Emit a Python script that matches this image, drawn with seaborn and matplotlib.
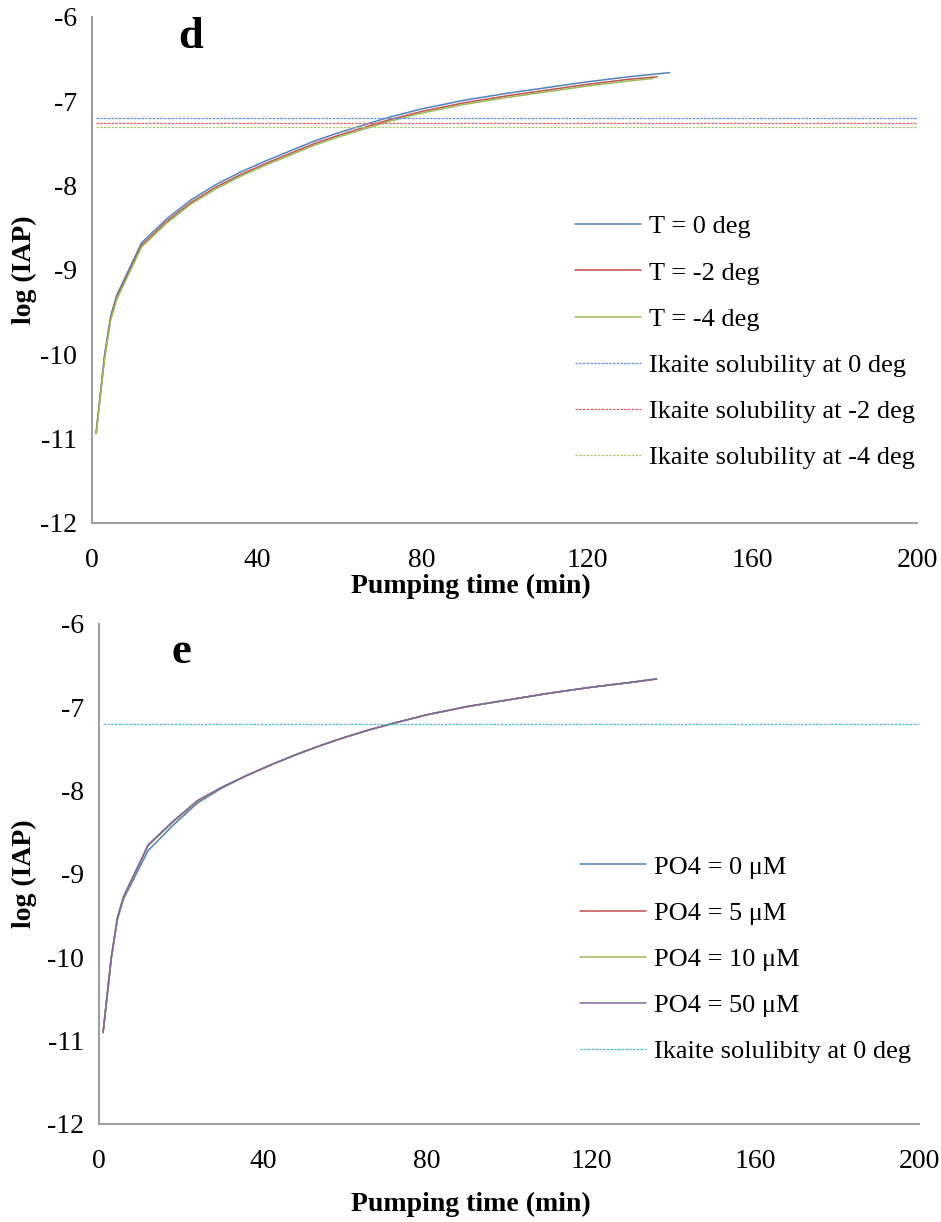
import matplotlib
matplotlib.use("Agg")
import matplotlib.pyplot as plt
import matplotlib.transforms as mtransforms
import seaborn as sns
import pandas as pd

# ---- panel d: temperature runs ----
time_T0 = [1, 3, 4.5, 6, 12, 18, 24, 30, 36, 42, 48, 54, 60, 66, 72, 80, 90, 100, 110, 120, 130, 140]
iap_T0 = [-10.93, -10.02, -9.55, -9.30, -8.68, -8.40, -8.17, -7.99, -7.84, -7.71, -7.59, -7.47,
          -7.37, -7.28, -7.19, -7.09, -6.99, -6.91, -6.84, -6.77, -6.71, -6.66]
time_Tm2 = [1, 3, 4.5, 6, 12, 18, 24, 30, 36, 42, 48, 54, 60, 66, 72, 80, 90, 100, 110, 120, 130, 137]
iap_Tm2 = [-10.94, -10.05, -9.58, -9.33, -8.71, -8.43, -8.20, -8.02, -7.87, -7.74, -7.62, -7.50,
           -7.40, -7.31, -7.22, -7.12, -7.02, -6.94, -6.87, -6.80, -6.74, -6.71]
time_Tm4 = [1, 3, 4.5, 6, 12, 18, 24, 30, 36, 42, 48, 54, 60, 66, 72, 80, 90, 100, 110, 120, 130, 136]
iap_Tm4 = [-10.95, -10.07, -9.60, -9.35, -8.73, -8.45, -8.22, -8.04, -7.89, -7.76, -7.64, -7.52,
           -7.42, -7.33, -7.24, -7.14, -7.04, -6.96, -6.89, -6.82, -6.76, -6.73]
sol_time = [1, 200]
sol_T0 = -7.20
sol_Tm2 = -7.26
sol_Tm4 = -7.31

# ---- panel e: phosphate runs ----
time_P = [1, 3, 4.5, 6, 12, 18, 24, 30, 36, 42, 48, 54, 60, 66, 72, 80, 90, 100, 110, 120, 130, 136]
iap_P0 = [-10.91, -10.02, -9.55, -9.30, -8.72, -8.42, -8.15, -7.97, -7.82, -7.69, -7.57, -7.46,
          -7.36, -7.27, -7.19, -7.09, -6.99, -6.91, -6.83, -6.76, -6.70, -6.66]
iap_P5 = [-10.90, -10.01, -9.53, -9.28, -8.66, -8.38, -8.13, -7.96, -7.82, -7.69, -7.57, -7.46,
          -7.36, -7.27, -7.19, -7.09, -6.99, -6.91, -6.83, -6.76, -6.70, -6.66]
iap_P10 = [-10.90, -10.01, -9.53, -9.28, -8.66, -8.38, -8.13, -7.96, -7.82, -7.69, -7.57, -7.46,
           -7.36, -7.27, -7.19, -7.09, -6.99, -6.91, -6.83, -6.76, -6.70, -6.66]
iap_P50 = [-10.90, -10.00, -9.52, -9.27, -8.65, -8.37, -8.12, -7.96, -7.82, -7.69, -7.57, -7.46,
           -7.36, -7.27, -7.19, -7.09, -6.99, -6.91, -6.83, -6.76, -6.70, -6.66]
sol_P = -7.20

x_ticks = [0, 40, 80, 120, 160, 200]
y_ticks = [-12, -11, -10, -9, -8, -7, -6]

sns.set_theme(style="white")
plt.rcParams["font.family"] = ["Liberation Serif", "DejaVu Serif"]
plt.rcParams["text.color"] = "black"
plt.rcParams["axes.labelcolor"] = "black"

SPINE = "#a0a0a0"
BLUE, RED, GREEN, PURPLE = "#4F81BD", "#C0504D", "#9BBB59", "#8064A2"
DOT_BLUE, DOT_RED, DOT_GREEN, DOT_CYAN = "#5B8FF0", "#E05A5A", "#B0C870", "#4BBAD6"
DOTS = (0, (2, 1))

fig = plt.figure(figsize=(9.41, 12.22), dpi=100)
ax_d = fig.add_axes([0.0978, 0.5723, 0.8767, 0.4138])
ax_e = fig.add_axes([0.1052, 0.0804, 0.8714, 0.4090])


def line(ax, x, y, color, label, dotted=False):
    df = pd.DataFrame({"t": x, "v": y})
    sns.lineplot(data=df, x="t", y="v", ax=ax, color=color, label=label,
                 linewidth=0.9 if dotted else 1.1,
                 linestyle=DOTS if dotted else "-", estimator=None, sort=False)


line(ax_d, time_T0, iap_T0, BLUE, "T = 0 deg")
line(ax_d, time_Tm2, iap_Tm2, RED, "T = -2 deg")
line(ax_d, time_Tm4, iap_Tm4, GREEN, "T = -4 deg")
line(ax_d, sol_time, [sol_T0] * 2, DOT_BLUE, "Ikaite solubility at 0 deg", dotted=True)
line(ax_d, sol_time, [sol_Tm2] * 2, DOT_RED, "Ikaite solubility at -2 deg", dotted=True)
line(ax_d, sol_time, [sol_Tm4] * 2, DOT_GREEN, "Ikaite solubility at -4 deg", dotted=True)

line(ax_e, time_P, iap_P0, BLUE, "PO4 = 0 μM")
line(ax_e, time_P, iap_P5, RED, "PO4 = 5 μM")
line(ax_e, time_P, iap_P10, GREEN, "PO4 = 10 μM")
line(ax_e, time_P, iap_P50, PURPLE, "PO4 = 50 μM")
line(ax_e, sol_time, [sol_P] * 2, DOT_CYAN, "Ikaite solulibity at 0 deg", dotted=True)

for ax, leg_xy, xlab_y in ((ax_d, (0.585, 0.357), 0.5305), (ax_e, (0.587, 0.329), 0.0245)):
    ax.set_xlim(0, 200)
    ax.set_ylim(-12, -6)
    ax.set_xticks(x_ticks)
    ax.set_yticks(y_ticks)
    ax.set_xticklabels([str(v) for v in x_ticks])
    ax.set_yticklabels([str(v) for v in y_ticks])
    for side in ("top", "right"):
        ax.spines[side].set_visible(False)
    for side in ("left", "bottom"):
        ax.spines[side].set_color(SPINE)
        ax.spines[side].set_linewidth(1.5)
    ax.tick_params(axis="both", direction="out", length=6, width=1.5, color=SPINE,
                   labelsize=20, labelcolor="black")
    ax.tick_params(axis="x", pad=12)
    ax.tick_params(axis="y", pad=5)
    ax.set_xlabel("Pumping time (min)", fontsize=20, fontweight="bold", color="black")
    ax.set_ylabel("log (IAP)", fontsize=20, fontweight="bold", color="black")
    ax.xaxis.set_label_coords(0.5, xlab_y, transform=fig.transFigure)
    ax.yaxis.set_label_coords(0.039, 0.5,
                              transform=mtransforms.blended_transform_factory(fig.transFigure, ax.transAxes))
    leg = ax.legend(loc="center left", bbox_to_anchor=leg_xy, frameon=False, fontsize=19,
                    handlelength=2.5, handletextpad=0.3, labelspacing=0.86,
                    borderpad=0, borderaxespad=0)
    for txt in leg.get_texts():
        txt.set_color("black")

ax_d.text(0.119, 0.939, "d", transform=ax_d.transAxes, fontsize=32, fontweight="bold",
          ha="center", va="baseline", color="black")
ax_e.text(0.101, 0.922, "e", transform=ax_e.transAxes, fontsize=32, fontweight="bold",
          ha="center", va="baseline", color="black")

fig.savefig("out.png", dpi=100)
